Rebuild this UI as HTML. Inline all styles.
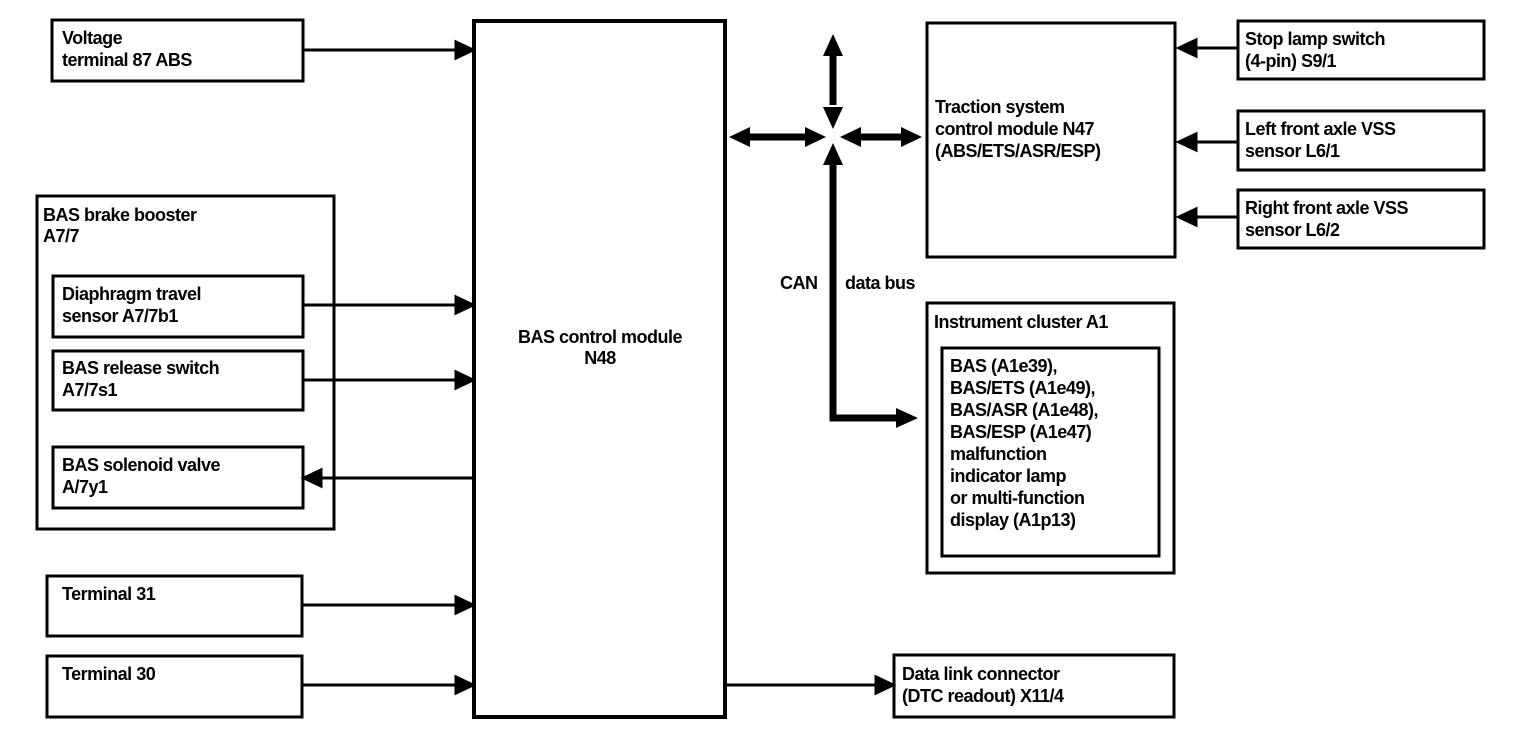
<!DOCTYPE html>
<html><head><meta charset="utf-8"><style>
html,body{margin:0;padding:0;background:#fff;}
svg{display:block}
text{font-family:"Liberation Sans",sans-serif;font-weight:bold;font-size:18px;fill:#000;letter-spacing:-0.5px}
</style></head><body>
<svg width="1536" height="750" viewBox="0 0 1536 750" xmlns="http://www.w3.org/2000/svg">
<g fill="none" stroke="#000" stroke-width="3">
<rect x="52" y="20" width="251" height="61"/>
<rect x="37" y="196" width="297" height="333"/>
<rect x="53" y="276" width="250" height="61"/>
<rect x="53" y="351" width="250" height="59"/>
<rect x="53" y="447" width="250" height="61"/>
<rect x="47" y="576" width="255" height="60"/>
<rect x="47" y="656" width="255" height="61"/>
<rect x="474" y="21" width="251" height="696" stroke-width="4"/>
<rect x="927" y="23" width="248" height="234"/>
<rect x="927" y="303" width="247" height="270"/>
<rect x="942" y="348" width="217" height="208"/>
<rect x="894" y="655" width="280" height="62"/>
<rect x="1238" y="21" width="246" height="58"/>
<rect x="1238" y="111" width="246" height="59"/>
<rect x="1238" y="190" width="246" height="58"/>
</g>
<g stroke="#000" stroke-width="3" fill="#000">
<line x1="303" y1="50" x2="458" y2="50"/><path d="M456,42 L473,50 L456,58z"/>
<line x1="303" y1="305" x2="458" y2="305"/><path d="M456,297 L473,305 L456,313z"/>
<line x1="303" y1="380" x2="458" y2="380"/><path d="M456,372 L473,380 L456,388z"/>
<line x1="320" y1="478" x2="474" y2="478"/><path d="M321,470 L304,478 L321,486z"/>
<line x1="302" y1="605" x2="458" y2="605"/><path d="M456,597 L473,605 L456,613z"/>
<line x1="302" y1="685" x2="458" y2="685"/><path d="M456,677 L473,685 L456,693z"/>
<line x1="725" y1="685" x2="878" y2="685"/><path d="M876,677 L893,685 L876,693z"/>
<line x1="1237" y1="48" x2="1195" y2="48"/><path d="M1196,40 L1179,48 L1196,56z"/>
<line x1="1237" y1="142" x2="1195" y2="142"/><path d="M1196,134 L1179,142 L1196,150z"/>
<line x1="1237" y1="217" x2="1195" y2="217"/><path d="M1196,209 L1179,217 L1196,225z"/>
</g>
<g stroke="#000" stroke-width="7" fill="#000">
<line x1="833" y1="50" x2="833" y2="105"/>
<line x1="745" y1="137" x2="805" y2="137"/>
<line x1="860" y1="137" x2="905" y2="137"/>
<line x1="833" y1="165" x2="833" y2="421"/>
<line x1="830" y1="418" x2="900" y2="418"/>
</g>
<g fill="#000">
<path d="M833,34 L823,56 L843,56z"/>
<path d="M833,129 L823,107 L843,107z"/>
<path d="M729,137 L750,127 L750,147z"/>
<path d="M826,137 L805,127 L805,147z"/>
<path d="M840,137 L861,127 L861,147z"/>
<path d="M922,137 L901,127 L901,147z"/>
<path d="M833,143 L823,165 L843,165z"/>
<path d="M918,418 L896,408 L896,428z"/>
</g>
<text x="62" y="44">Voltage</text>
<text x="62" y="66">terminal 87 ABS</text>
<text x="43" y="221">BAS brake booster</text>
<text x="43" y="242">A7/7</text>
<text x="62" y="300">Diaphragm travel</text>
<text x="62" y="322">sensor A7/7b1</text>
<text x="62" y="374">BAS release switch</text>
<text x="62" y="396">A7/7s1</text>
<text x="62" y="471">BAS solenoid valve</text>
<text x="62" y="493">A/7y1</text>
<text x="62" y="600">Terminal 31</text>
<text x="62" y="680">Terminal 30</text>
<text x="600" y="343" text-anchor="middle">BAS control module</text>
<text x="600" y="364" text-anchor="middle">N48</text>
<text x="935" y="113">Traction system</text>
<text x="935" y="135">control module N47</text>
<text x="935" y="157">(ABS/ETS/ASR/ESP)</text>
<text x="780" y="289">CAN</text>
<text x="845" y="289">data bus</text>
<text x="934" y="328">Instrument cluster A1</text>
<text x="950" y="372">BAS (A1e39),</text>
<text x="950" y="394">BAS/ETS (A1e49),</text>
<text x="950" y="416">BAS/ASR (A1e48),</text>
<text x="950" y="438">BAS/ESP (A1e47)</text>
<text x="950" y="460">malfunction</text>
<text x="950" y="482">indicator lamp</text>
<text x="950" y="504">or multi-function</text>
<text x="950" y="526">display (A1p13)</text>
<text x="902" y="680">Data link connector</text>
<text x="902" y="702">(DTC readout) X11/4</text>
<text x="1245" y="45">Stop lamp switch</text>
<text x="1245" y="67">(4-pin) S9/1</text>
<text x="1245" y="135">Left front axle VSS</text>
<text x="1245" y="157">sensor L6/1</text>
<text x="1245" y="214">Right front axle VSS</text>
<text x="1245" y="236">sensor L6/2</text>
</svg>
</body></html>
